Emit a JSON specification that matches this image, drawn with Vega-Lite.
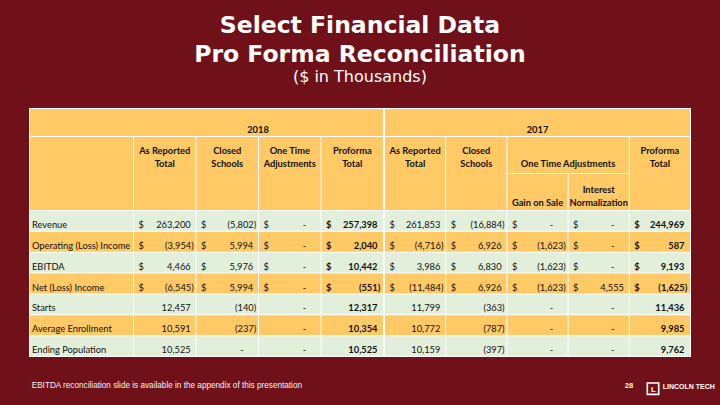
{
  "$schema": "https://vega.github.io/schema/vega-lite/v6.json",
  "background": "#70111a",
  "padding": {"left": 29, "right": 29, "top": 13, "bottom": 0},
  "title": {
    "text": ["Select Financial Data", "Pro Forma Reconciliation"],
    "subtitle": "($ in Thousands)",
    "anchor": "middle",
    "frame": "bounds",
    "baseline": "top",
    "dx": -12,
    "font": "DejaVu Sans",
    "fontSize": 23.5,
    "fontWeight": "bold",
    "color": "#ffffff",
    "lineHeight": 29,
    "subtitleFont": "DejaVu Sans",
    "subtitleFontSize": 16,
    "subtitleColor": "#ffffff",
    "subtitlePadding": 2.5,
    "offset": 23.5
  },
  "config": {"view": {"stroke": null}, "scale": {"round": false}},
  "datasets": {
    "cells": [
      {"year": "2018", "metric": "Revenue", "col": "As Reported Total", "value": 263200},
      {"year": "2018", "metric": "Revenue", "col": "Closed Schools", "value": -5802},
      {"year": "2018", "metric": "Revenue", "col": "One Time Adjustments", "value": 0},
      {"year": "2018", "metric": "Revenue", "col": "Proforma Total", "value": 257398},
      {"year": "2018", "metric": "Operating (Loss) Income", "col": "As Reported Total", "value": -3954},
      {"year": "2018", "metric": "Operating (Loss) Income", "col": "Closed Schools", "value": 5994},
      {"year": "2018", "metric": "Operating (Loss) Income", "col": "One Time Adjustments", "value": 0},
      {"year": "2018", "metric": "Operating (Loss) Income", "col": "Proforma Total", "value": 2040},
      {"year": "2018", "metric": "EBITDA", "col": "As Reported Total", "value": 4466},
      {"year": "2018", "metric": "EBITDA", "col": "Closed Schools", "value": 5976},
      {"year": "2018", "metric": "EBITDA", "col": "One Time Adjustments", "value": 0},
      {"year": "2018", "metric": "EBITDA", "col": "Proforma Total", "value": 10442},
      {"year": "2018", "metric": "Net (Loss) Income", "col": "As Reported Total", "value": -6545},
      {"year": "2018", "metric": "Net (Loss) Income", "col": "Closed Schools", "value": 5994},
      {"year": "2018", "metric": "Net (Loss) Income", "col": "One Time Adjustments", "value": 0},
      {"year": "2018", "metric": "Net (Loss) Income", "col": "Proforma Total", "value": -551},
      {"year": "2018", "metric": "Starts", "col": "As Reported Total", "value": 12457},
      {"year": "2018", "metric": "Starts", "col": "Closed Schools", "value": -140},
      {"year": "2018", "metric": "Starts", "col": "One Time Adjustments", "value": 0},
      {"year": "2018", "metric": "Starts", "col": "Proforma Total", "value": 12317},
      {"year": "2018", "metric": "Average Enrollment", "col": "As Reported Total", "value": 10591},
      {"year": "2018", "metric": "Average Enrollment", "col": "Closed Schools", "value": -237},
      {"year": "2018", "metric": "Average Enrollment", "col": "One Time Adjustments", "value": 0},
      {"year": "2018", "metric": "Average Enrollment", "col": "Proforma Total", "value": 10354},
      {"year": "2018", "metric": "Ending Population", "col": "As Reported Total", "value": 10525},
      {"year": "2018", "metric": "Ending Population", "col": "Closed Schools", "value": 0},
      {"year": "2018", "metric": "Ending Population", "col": "One Time Adjustments", "value": 0},
      {"year": "2018", "metric": "Ending Population", "col": "Proforma Total", "value": 10525},
      {"year": "2017", "metric": "Revenue", "col": "As Reported Total", "value": 261853},
      {"year": "2017", "metric": "Revenue", "col": "Closed Schools", "value": -16884},
      {"year": "2017", "metric": "Revenue", "col": "Gain on Sale", "value": 0},
      {"year": "2017", "metric": "Revenue", "col": "Interest Normalization", "value": 0},
      {"year": "2017", "metric": "Revenue", "col": "Proforma Total", "value": 244969},
      {"year": "2017", "metric": "Operating (Loss) Income", "col": "As Reported Total", "value": -4716},
      {"year": "2017", "metric": "Operating (Loss) Income", "col": "Closed Schools", "value": 6926},
      {"year": "2017", "metric": "Operating (Loss) Income", "col": "Gain on Sale", "value": -1623},
      {"year": "2017", "metric": "Operating (Loss) Income", "col": "Interest Normalization", "value": 0},
      {"year": "2017", "metric": "Operating (Loss) Income", "col": "Proforma Total", "value": 587},
      {"year": "2017", "metric": "EBITDA", "col": "As Reported Total", "value": 3986},
      {"year": "2017", "metric": "EBITDA", "col": "Closed Schools", "value": 6830},
      {"year": "2017", "metric": "EBITDA", "col": "Gain on Sale", "value": -1623},
      {"year": "2017", "metric": "EBITDA", "col": "Interest Normalization", "value": 0},
      {"year": "2017", "metric": "EBITDA", "col": "Proforma Total", "value": 9193},
      {"year": "2017", "metric": "Net (Loss) Income", "col": "As Reported Total", "value": -11484},
      {"year": "2017", "metric": "Net (Loss) Income", "col": "Closed Schools", "value": 6926},
      {"year": "2017", "metric": "Net (Loss) Income", "col": "Gain on Sale", "value": -1623},
      {"year": "2017", "metric": "Net (Loss) Income", "col": "Interest Normalization", "value": 4555},
      {"year": "2017", "metric": "Net (Loss) Income", "col": "Proforma Total", "value": -1625},
      {"year": "2017", "metric": "Starts", "col": "As Reported Total", "value": 11799},
      {"year": "2017", "metric": "Starts", "col": "Closed Schools", "value": -363},
      {"year": "2017", "metric": "Starts", "col": "Gain on Sale", "value": 0},
      {"year": "2017", "metric": "Starts", "col": "Interest Normalization", "value": 0},
      {"year": "2017", "metric": "Starts", "col": "Proforma Total", "value": 11436},
      {"year": "2017", "metric": "Average Enrollment", "col": "As Reported Total", "value": 10772},
      {"year": "2017", "metric": "Average Enrollment", "col": "Closed Schools", "value": -787},
      {"year": "2017", "metric": "Average Enrollment", "col": "Gain on Sale", "value": 0},
      {"year": "2017", "metric": "Average Enrollment", "col": "Interest Normalization", "value": 0},
      {"year": "2017", "metric": "Average Enrollment", "col": "Proforma Total", "value": 9985},
      {"year": "2017", "metric": "Ending Population", "col": "As Reported Total", "value": 10159},
      {"year": "2017", "metric": "Ending Population", "col": "Closed Schools", "value": -397},
      {"year": "2017", "metric": "Ending Population", "col": "Gain on Sale", "value": 0},
      {"year": "2017", "metric": "Ending Population", "col": "Interest Normalization", "value": 0},
      {"year": "2017", "metric": "Ending Population", "col": "Proforma Total", "value": 9762}
    ],
    "head2018": [
      {"col": "As Reported Total", "label": "As Reported\nTotal"},
      {"col": "Closed Schools", "label": "Closed\nSchools"},
      {"col": "One Time Adjustments", "label": "One Time\nAdjustments"},
      {"col": "Proforma Total", "label": "Proforma\nTotal"}
    ],
    "head2017": [
      {"col": "As Reported Total", "part": "full", "label": "As Reported\nTotal"},
      {"col": "Closed Schools", "part": "full", "label": "Closed\nSchools"},
      {"col": "Gain on Sale", "part": "top", "label": "One Time Adjustments"},
      {"col": "Interest Normalization", "part": "top", "label": ""},
      {"col": "Gain on Sale", "part": "bot", "label": "Gain on Sale"},
      {"col": "Interest Normalization", "part": "bot", "label": "Interest\nNormalization"},
      {"col": "Proforma Total", "part": "full", "label": "Proforma\nTotal"}
    ]
  },
  "columns": 3,
  "spacing": 0,
  "bounds": "flush",
  "concat": [
    {
      "width": 104, "height": 29,
      "view": {"fill": "#ffffff", "stroke": null},
      "data": {"values": [{"part": "label"}]},
      "mark": {"type": "rect", "fill": "#FFC966"},
      "encoding": {
        "x": {"datum": "label", "type": "nominal", "axis": null, "scale": {"type": "band", "paddingInner": 0, "paddingOuter": 0.004854, "align": 1}},
        "y": {"datum": "year", "type": "nominal", "axis": null, "scale": {"type": "band", "paddingInner": 0, "paddingOuter": 0.037037, "align": 0.5}}
      }
    },
    {
      "width": 250, "height": 29,
      "view": {"fill": "#ffffff", "stroke": null},
      "data": {"values": [{"year": "2018"}]},
      "layer": [
        {
          "mark": {"type": "rect", "fill": "#FFC966"},
          "encoding": {
            "y": {"datum": "year", "type": "nominal", "axis": null, "scale": {"type": "band", "paddingInner": 0, "paddingOuter": 0.037037, "align": 0.5}}
          }
        },
        {
          "mark": {"type": "text", "font": "Lato", "fontSize": 9.3, "fontWeight": "bold", "color": "#111111", "baseline": "alphabetic", "dy": -2.7},
          "encoding": {
            "y": {"datum": "year", "type": "nominal", "axis": null, "bandPosition": 1, "scale": {"type": "band", "paddingInner": 0, "paddingOuter": 0.037037, "align": 0.5}},
            "text": {"field": "year", "type": "nominal"}
          }
        }
      ]
    },
    {
      "width": 308, "height": 29,
      "view": {"fill": "#ffffff", "stroke": null},
      "data": {"values": [{"year": "2017"}]},
      "encoding": {
        "x": {"datum": "year", "type": "nominal", "axis": null, "scale": {"type": "band", "paddingInner": 0, "paddingOuter": 0.004918, "align": 0.6667}}
      },
      "layer": [
        {
          "mark": {"type": "rect", "fill": "#FFC966"},
          "encoding": {
            "y": {"datum": "year", "type": "nominal", "axis": null, "scale": {"type": "band", "paddingInner": 0, "paddingOuter": 0.037037, "align": 0.5}}
          }
        },
        {
          "mark": {"type": "text", "font": "Lato", "fontSize": 9.3, "fontWeight": "bold", "color": "#111111", "baseline": "alphabetic", "dy": -2.7},
          "encoding": {
            "y": {"datum": "year", "type": "nominal", "axis": null, "bandPosition": 1, "scale": {"type": "band", "paddingInner": 0, "paddingOuter": 0.037037, "align": 0.5}},
            "text": {"field": "year", "type": "nominal"}
          }
        }
      ]
    },
    {
      "width": 104, "height": 73,
      "view": {"fill": "#ffffff", "stroke": null},
      "data": {"values": [{"part": "label"}]},
      "mark": {"type": "rect", "fill": "#FFC966"},
      "encoding": {
        "x": {"datum": "label", "type": "nominal", "axis": null, "scale": {"type": "band", "paddingInner": 0, "paddingOuter": 0.004854, "align": 1}}
      }
    },
    {
      "width": 250, "height": 73,
      "view": {"fill": "#ffffff", "stroke": null},
      "data": {"name": "head2018"},
      "encoding": {
        "x": {"field": "col", "type": "nominal", "axis": null, "scale": {"type": "band", "domain": ["As Reported Total", "Closed Schools", "One Time Adjustments", "Proforma Total"], "paddingInner": 0.016, "paddingOuter": 0.008, "align": 1}}
      },
      "layer": [
        {"mark": {"type": "rect", "fill": "#FFC966"}},
        {
          "mark": {"type": "text", "font": "Lato", "fontSize": 9.3, "fontWeight": "bold", "color": "#111111", "baseline": "top", "dy": 10, "lineBreak": "\n", "lineHeight": 12.5},
          "encoding": {
            "y": {"datum": "top", "type": "nominal", "axis": null, "bandPosition": 0, "scale": {"type": "band", "domain": ["top", "bot"], "paddingInner": 0.027, "paddingOuter": 0}},
            "text": {"field": "label", "type": "nominal"}
          }
        }
      ]
    },
    {
      "width": 308, "height": 73,
      "view": {"fill": "#ffffff", "stroke": null},
      "data": {"name": "head2017"},
      "encoding": {
        "x": {"field": "col", "type": "nominal", "axis": null, "scale": {"type": "band", "domain": ["As Reported Total", "Closed Schools", "Gain on Sale", "Interest Normalization", "Proforma Total"], "paddingInner": 0.01634, "paddingOuter": 0.02451, "align": 0.6667}}
      },
      "layer": [
        {
          "transform": [{"filter": "datum.part === 'full'"}],
          "mark": {"type": "rect", "fill": "#FFC966"}
        },
        {
          "transform": [{"filter": "datum.part !== 'full'"}],
          "mark": {"type": "rect", "fill": "#FFC966"},
          "encoding": {
            "y": {"field": "part", "type": "nominal", "axis": null, "scale": {"type": "band", "domain": ["top", "bot"], "paddingInner": 0.027, "paddingOuter": 0}}
          }
        },
        {
          "transform": [{"filter": "datum.part === 'top' && datum.col === 'Gain on Sale'"}],
          "mark": {"type": "rect", "fill": "#FFC966", "xOffset": 30},
          "encoding": {
            "y": {"field": "part", "type": "nominal", "axis": null, "scale": {"type": "band", "domain": ["top", "bot"], "paddingInner": 0.027, "paddingOuter": 0}}
          }
        },
        {
          "transform": [{"filter": "datum.part === 'full'"}],
          "mark": {"type": "text", "font": "Lato", "fontSize": 9.3, "fontWeight": "bold", "color": "#111111", "baseline": "top", "dy": 10, "lineBreak": "\n", "lineHeight": 12.5},
          "encoding": {
            "y": {"datum": "top", "type": "nominal", "axis": null, "bandPosition": 0, "scale": {"type": "band", "domain": ["top", "bot"], "paddingInner": 0.027, "paddingOuter": 0}},
            "text": {"field": "label", "type": "nominal"}
          }
        },
        {
          "transform": [{"filter": "datum.part === 'top' && datum.col === 'Gain on Sale'"}],
          "mark": {"type": "text", "font": "Lato", "fontSize": 9.3, "fontWeight": "bold", "color": "#111111", "baseline": "alphabetic", "dx": 0.5, "dy": -5.7},
          "encoding": {
            "x": {"field": "col", "type": "nominal", "axis": null, "bandPosition": 1, "scale": {"type": "band", "domain": ["As Reported Total", "Closed Schools", "Gain on Sale", "Interest Normalization", "Proforma Total"], "paddingInner": 0.01634, "paddingOuter": 0.02451, "align": 0.6667}},
            "y": {"field": "part", "type": "nominal", "axis": null, "bandPosition": 1, "scale": {"type": "band", "domain": ["top", "bot"], "paddingInner": 0.027, "paddingOuter": 0}},
            "text": {"field": "label", "type": "nominal"}
          }
        },
        {
          "transform": [{"filter": "datum.part === 'bot' && datum.col === 'Gain on Sale'"}],
          "mark": {"type": "text", "font": "Lato", "fontSize": 9.3, "fontWeight": "bold", "color": "#111111", "baseline": "alphabetic", "dy": -4},
          "encoding": {
            "y": {"field": "part", "type": "nominal", "axis": null, "bandPosition": 1, "scale": {"type": "band", "domain": ["top", "bot"], "paddingInner": 0.027, "paddingOuter": 0}},
            "text": {"field": "label", "type": "nominal"}
          }
        },
        {
          "transform": [{"filter": "datum.part === 'bot' && datum.col === 'Interest Normalization'"}],
          "mark": {"type": "text", "font": "Lato", "fontSize": 9.3, "fontWeight": "bold", "color": "#111111", "baseline": "top", "dy": 12.3, "lineBreak": "\n", "lineHeight": 12.7},
          "encoding": {
            "y": {"field": "part", "type": "nominal", "axis": null, "bandPosition": 0, "scale": {"type": "band", "domain": ["top", "bot"], "paddingInner": 0.027, "paddingOuter": 0}},
            "text": {"field": "label", "type": "nominal"}
          }
        }
      ]
    },
    {
      "width": 104, "height": 147,
      "view": {"fill": "#ffffff", "stroke": null},
      "data": {"name": "cells"},
      "transform": [{"filter": "datum.year === '2018' && datum.col === 'As Reported Total'"}],
      "encoding": {
        "x": {"datum": "label", "type": "nominal", "axis": null, "scale": {"type": "band", "paddingInner": 0, "paddingOuter": 0.004854, "align": 1}},
        "y": {"field": "metric", "type": "nominal", "axis": null, "scale": {"type": "band", "domain": ["Revenue", "Operating (Loss) Income", "EBITDA", "Net (Loss) Income", "Starts", "Average Enrollment", "Ending Population"], "paddingInner": 0.04795, "paddingOuter": 0.04795, "align": 0.5}}
      },
      "layer": [
        {
          "mark": {"type": "rect"},
          "encoding": {
            "fill": {"field": "metric", "type": "nominal", "legend": null, "scale": {"domain": ["Revenue", "Operating (Loss) Income", "EBITDA", "Net (Loss) Income", "Starts", "Average Enrollment", "Ending Population"], "range": ["#E2EFDA", "#FFC966", "#E2EFDA", "#FFC966", "#E2EFDA", "#FFC966", "#E2EFDA"]}}
          }
        },
        {
          "mark": {"type": "text", "font": "Lato", "fontSize": 9.3, "color": "#111111", "align": "left", "baseline": "alphabetic", "dx": 2, "dy": 7},
          "encoding": {
            "x": {"datum": "label", "type": "nominal", "axis": null, "bandPosition": 0, "scale": {"type": "band", "paddingInner": 0, "paddingOuter": 0.004854, "align": 1}},
            "text": {"field": "metric", "type": "nominal"}
          }
        }
      ]
    },
    {
      "width": 250, "height": 147,
      "view": {"fill": "#ffffff", "stroke": null},
      "data": {"name": "cells"},
      "transform": [{"filter": "datum.year === '2018'"}],
      "encoding": {
        "x": {"field": "col", "type": "nominal", "axis": null, "scale": {"type": "band", "domain": ["As Reported Total", "Closed Schools", "One Time Adjustments", "Proforma Total"], "paddingInner": 0.016, "paddingOuter": 0.008, "align": 1}},
        "y": {"field": "metric", "type": "nominal", "axis": null, "scale": {"type": "band", "domain": ["Revenue", "Operating (Loss) Income", "EBITDA", "Net (Loss) Income", "Starts", "Average Enrollment", "Ending Population"], "paddingInner": 0.04795, "paddingOuter": 0.04795, "align": 0.5}}
      },
      "layer": [
        {
          "mark": {"type": "rect"},
          "encoding": {
            "fill": {"field": "metric", "type": "nominal", "legend": null, "scale": {"domain": ["Revenue", "Operating (Loss) Income", "EBITDA", "Net (Loss) Income", "Starts", "Average Enrollment", "Ending Population"], "range": ["#E2EFDA", "#FFC966", "#E2EFDA", "#FFC966", "#E2EFDA", "#FFC966", "#E2EFDA"]}}
          }
        },
        {
          "transform": [{"filter": "indexof(['Revenue','Operating (Loss) Income','EBITDA','Net (Loss) Income'], datum.metric) >= 0 && datum.col !== 'Proforma Total'"}],
          "mark": {"type": "text", "font": "Lato", "fontSize": 9.3, "color": "#111111", "align": "left", "baseline": "alphabetic", "dx": 4.5, "dy": 7},
          "encoding": {
            "x": {"field": "col", "type": "nominal", "axis": null, "bandPosition": 0, "scale": {"type": "band", "domain": ["As Reported Total", "Closed Schools", "One Time Adjustments", "Proforma Total"], "paddingInner": 0.016, "paddingOuter": 0.008, "align": 1}},
            "text": {"value": "$"}
          }
        },
        {
          "transform": [{"filter": "indexof(['Revenue','Operating (Loss) Income','EBITDA','Net (Loss) Income'], datum.metric) >= 0 && datum.col === 'Proforma Total'"}],
          "mark": {"type": "text", "font": "Lato", "fontSize": 9.3, "fontWeight": "bold", "color": "#111111", "align": "left", "baseline": "alphabetic", "dx": 4.5, "dy": 7},
          "encoding": {
            "x": {"field": "col", "type": "nominal", "axis": null, "bandPosition": 0, "scale": {"type": "band", "domain": ["As Reported Total", "Closed Schools", "One Time Adjustments", "Proforma Total"], "paddingInner": 0.016, "paddingOuter": 0.008, "align": 1}},
            "text": {"value": "$"}
          }
        },
        {
          "transform": [{"filter": "datum.value > 0 && datum.col !== 'Proforma Total'"}],
          "mark": {"type": "text", "font": "Lato", "fontSize": 9.3, "color": "#111111", "align": "right", "baseline": "alphabetic", "dx": -4.8, "dy": 7},
          "encoding": {
            "x": {"field": "col", "type": "nominal", "axis": null, "bandPosition": 1, "scale": {"type": "band", "domain": ["As Reported Total", "Closed Schools", "One Time Adjustments", "Proforma Total"], "paddingInner": 0.016, "paddingOuter": 0.008, "align": 1}},
            "text": {"field": "value", "type": "quantitative", "format": ","}
          }
        },
        {
          "transform": [{"filter": "datum.value < 0 && datum.col !== 'Proforma Total'"}],
          "mark": {"type": "text", "font": "Lato", "fontSize": 9.3, "color": "#111111", "align": "right", "baseline": "alphabetic", "dx": -1.8, "dy": 7},
          "encoding": {
            "x": {"field": "col", "type": "nominal", "axis": null, "bandPosition": 1, "scale": {"type": "band", "domain": ["As Reported Total", "Closed Schools", "One Time Adjustments", "Proforma Total"], "paddingInner": 0.016, "paddingOuter": 0.008, "align": 1}},
            "text": {"field": "value", "type": "quantitative", "format": "(,"}
          }
        },
        {
          "transform": [{"filter": "datum.value === 0"}],
          "mark": {"type": "text", "font": "Lato", "fontSize": 9.3, "color": "#111111", "align": "center", "baseline": "alphabetic", "dx": -16, "dy": 7},
          "encoding": {
            "x": {"field": "col", "type": "nominal", "axis": null, "bandPosition": 1, "scale": {"type": "band", "domain": ["As Reported Total", "Closed Schools", "One Time Adjustments", "Proforma Total"], "paddingInner": 0.016, "paddingOuter": 0.008, "align": 1}},
            "text": {"value": "-"}
          }
        },
        {
          "transform": [{"filter": "datum.value > 0 && datum.col === 'Proforma Total'"}],
          "mark": {"type": "text", "font": "Lato", "fontSize": 9.3, "fontWeight": "bold", "color": "#111111", "align": "right", "baseline": "alphabetic", "dx": -5.5, "dy": 7},
          "encoding": {
            "x": {"field": "col", "type": "nominal", "axis": null, "bandPosition": 1, "scale": {"type": "band", "domain": ["As Reported Total", "Closed Schools", "One Time Adjustments", "Proforma Total"], "paddingInner": 0.016, "paddingOuter": 0.008, "align": 1}},
            "text": {"field": "value", "type": "quantitative", "format": ","}
          }
        },
        {
          "transform": [{"filter": "datum.value < 0 && datum.col === 'Proforma Total'"}],
          "mark": {"type": "text", "font": "Lato", "fontSize": 9.3, "fontWeight": "bold", "color": "#111111", "align": "right", "baseline": "alphabetic", "dx": -2.8, "dy": 7},
          "encoding": {
            "x": {"field": "col", "type": "nominal", "axis": null, "bandPosition": 1, "scale": {"type": "band", "domain": ["As Reported Total", "Closed Schools", "One Time Adjustments", "Proforma Total"], "paddingInner": 0.016, "paddingOuter": 0.008, "align": 1}},
            "text": {"field": "value", "type": "quantitative", "format": "(,"}
          }
        }
      ]
    },
    {
      "width": 308, "height": 147,
      "view": {"fill": "#ffffff", "stroke": null},
      "data": {"name": "cells"},
      "transform": [{"filter": "datum.year === '2017'"}],
      "encoding": {
        "x": {"field": "col", "type": "nominal", "axis": null, "scale": {"type": "band", "domain": ["As Reported Total", "Closed Schools", "Gain on Sale", "Interest Normalization", "Proforma Total"], "paddingInner": 0.01634, "paddingOuter": 0.02451, "align": 0.6667}},
        "y": {"field": "metric", "type": "nominal", "axis": null, "scale": {"type": "band", "domain": ["Revenue", "Operating (Loss) Income", "EBITDA", "Net (Loss) Income", "Starts", "Average Enrollment", "Ending Population"], "paddingInner": 0.04795, "paddingOuter": 0.04795, "align": 0.5}}
      },
      "layer": [
        {
          "mark": {"type": "rect"},
          "encoding": {
            "fill": {"field": "metric", "type": "nominal", "legend": null, "scale": {"domain": ["Revenue", "Operating (Loss) Income", "EBITDA", "Net (Loss) Income", "Starts", "Average Enrollment", "Ending Population"], "range": ["#E2EFDA", "#FFC966", "#E2EFDA", "#FFC966", "#E2EFDA", "#FFC966", "#E2EFDA"]}}
          }
        },
        {
          "transform": [{"filter": "indexof(['Revenue','Operating (Loss) Income','EBITDA','Net (Loss) Income'], datum.metric) >= 0 && datum.col !== 'Proforma Total'"}],
          "mark": {"type": "text", "font": "Lato", "fontSize": 9.3, "color": "#111111", "align": "left", "baseline": "alphabetic", "dx": 4.5, "dy": 7},
          "encoding": {
            "x": {"field": "col", "type": "nominal", "axis": null, "bandPosition": 0, "scale": {"type": "band", "domain": ["As Reported Total", "Closed Schools", "Gain on Sale", "Interest Normalization", "Proforma Total"], "paddingInner": 0.01634, "paddingOuter": 0.02451, "align": 0.6667}},
            "text": {"value": "$"}
          }
        },
        {
          "transform": [{"filter": "indexof(['Revenue','Operating (Loss) Income','EBITDA','Net (Loss) Income'], datum.metric) >= 0 && datum.col === 'Proforma Total'"}],
          "mark": {"type": "text", "font": "Lato", "fontSize": 9.3, "fontWeight": "bold", "color": "#111111", "align": "left", "baseline": "alphabetic", "dx": 4.5, "dy": 7},
          "encoding": {
            "x": {"field": "col", "type": "nominal", "axis": null, "bandPosition": 0, "scale": {"type": "band", "domain": ["As Reported Total", "Closed Schools", "Gain on Sale", "Interest Normalization", "Proforma Total"], "paddingInner": 0.01634, "paddingOuter": 0.02451, "align": 0.6667}},
            "text": {"value": "$"}
          }
        },
        {
          "transform": [{"filter": "datum.value > 0 && datum.col !== 'Proforma Total'"}],
          "mark": {"type": "text", "font": "Lato", "fontSize": 9.3, "color": "#111111", "align": "right", "baseline": "alphabetic", "dx": -4.8, "dy": 7},
          "encoding": {
            "x": {"field": "col", "type": "nominal", "axis": null, "bandPosition": 1, "scale": {"type": "band", "domain": ["As Reported Total", "Closed Schools", "Gain on Sale", "Interest Normalization", "Proforma Total"], "paddingInner": 0.01634, "paddingOuter": 0.02451, "align": 0.6667}},
            "text": {"field": "value", "type": "quantitative", "format": ","}
          }
        },
        {
          "transform": [{"filter": "datum.value < 0 && datum.col !== 'Proforma Total'"}],
          "mark": {"type": "text", "font": "Lato", "fontSize": 9.3, "color": "#111111", "align": "right", "baseline": "alphabetic", "dx": -1.8, "dy": 7},
          "encoding": {
            "x": {"field": "col", "type": "nominal", "axis": null, "bandPosition": 1, "scale": {"type": "band", "domain": ["As Reported Total", "Closed Schools", "Gain on Sale", "Interest Normalization", "Proforma Total"], "paddingInner": 0.01634, "paddingOuter": 0.02451, "align": 0.6667}},
            "text": {"field": "value", "type": "quantitative", "format": "(,"}
          }
        },
        {
          "transform": [{"filter": "datum.value === 0"}],
          "mark": {"type": "text", "font": "Lato", "fontSize": 9.3, "color": "#111111", "align": "center", "baseline": "alphabetic", "dx": -16, "dy": 7},
          "encoding": {
            "x": {"field": "col", "type": "nominal", "axis": null, "bandPosition": 1, "scale": {"type": "band", "domain": ["As Reported Total", "Closed Schools", "Gain on Sale", "Interest Normalization", "Proforma Total"], "paddingInner": 0.01634, "paddingOuter": 0.02451, "align": 0.6667}},
            "text": {"value": "-"}
          }
        },
        {
          "transform": [{"filter": "datum.value > 0 && datum.col === 'Proforma Total'"}],
          "mark": {"type": "text", "font": "Lato", "fontSize": 9.3, "fontWeight": "bold", "color": "#111111", "align": "right", "baseline": "alphabetic", "dx": -5.5, "dy": 7},
          "encoding": {
            "x": {"field": "col", "type": "nominal", "axis": null, "bandPosition": 1, "scale": {"type": "band", "domain": ["As Reported Total", "Closed Schools", "Gain on Sale", "Interest Normalization", "Proforma Total"], "paddingInner": 0.01634, "paddingOuter": 0.02451, "align": 0.6667}},
            "text": {"field": "value", "type": "quantitative", "format": ","}
          }
        },
        {
          "transform": [{"filter": "datum.value < 0 && datum.col === 'Proforma Total'"}],
          "mark": {"type": "text", "font": "Lato", "fontSize": 9.3, "fontWeight": "bold", "color": "#111111", "align": "right", "baseline": "alphabetic", "dx": -2.8, "dy": 7},
          "encoding": {
            "x": {"field": "col", "type": "nominal", "axis": null, "bandPosition": 1, "scale": {"type": "band", "domain": ["As Reported Total", "Closed Schools", "Gain on Sale", "Interest Normalization", "Proforma Total"], "paddingInner": 0.01634, "paddingOuter": 0.02451, "align": 0.6667}},
            "text": {"field": "value", "type": "quantitative", "format": "(,"}
          }
        }
      ]
    },
    {
      "width": 104, "height": 48,
      "data": {"values": [{"note": "EBITDA reconciliation slide is available in the appendix of this presentation"}]},
      "mark": {"type": "text", "font": "Liberation Sans", "fontSize": 8.2, "color": "#f2f2f2", "align": "left", "baseline": "alphabetic", "dx": 2.7, "dy": 6.7},
      "encoding": {
        "x": {"datum": "note", "type": "nominal", "axis": null, "bandPosition": 0, "scale": {"type": "band", "paddingInner": 0, "paddingOuter": 0}},
        "text": {"field": "note", "type": "nominal"}
      }
    },
    {
      "width": 250, "height": 48,
      "data": {"values": [{"note": ""}]},
      "mark": {"type": "text", "fontSize": 7, "color": "#f2f2f2"},
      "encoding": {
        "text": {"field": "note", "type": "nominal"}
      }
    },
    {
      "width": 308, "height": 48,
      "data": {"values": [{"page": "28", "brand": "LINCOLN TECH"}]},
      "encoding": {
        "x": {"datum": "foot", "type": "nominal", "axis": null, "bandPosition": 1, "scale": {"type": "band", "paddingInner": 0, "paddingOuter": 0}}
      },
      "layer": [
        {
          "mark": {"type": "text", "font": "Liberation Sans", "fontSize": 7.5, "fontWeight": "bold", "color": "#ffffff", "align": "center", "baseline": "alphabetic", "dx": -62, "dy": 6.7},
          "encoding": {"text": {"field": "page", "type": "nominal"}}
        },
        {
          "mark": {"type": "square", "filled": false, "stroke": "#ffffff", "strokeWidth": 1.6, "size": 130, "xOffset": -38, "yOffset": 7.7, "opacity": 1}
        },
        {
          "mark": {"type": "text", "font": "Liberation Sans", "fontSize": 8, "fontWeight": "bold", "color": "#ffffff", "align": "center", "baseline": "alphabetic", "dx": -37.5, "dy": 11},
          "encoding": {"text": {"value": "L"}}
        },
        {
          "mark": {"type": "text", "font": "Liberation Sans Narrow, Liberation Sans", "fontSize": 7, "fontWeight": "bold", "color": "#ffffff", "align": "left", "baseline": "alphabetic", "dx": -28.3, "dy": 8.3},
          "encoding": {"text": {"field": "brand", "type": "nominal"}}
        }
      ]
    }
  ]
}
